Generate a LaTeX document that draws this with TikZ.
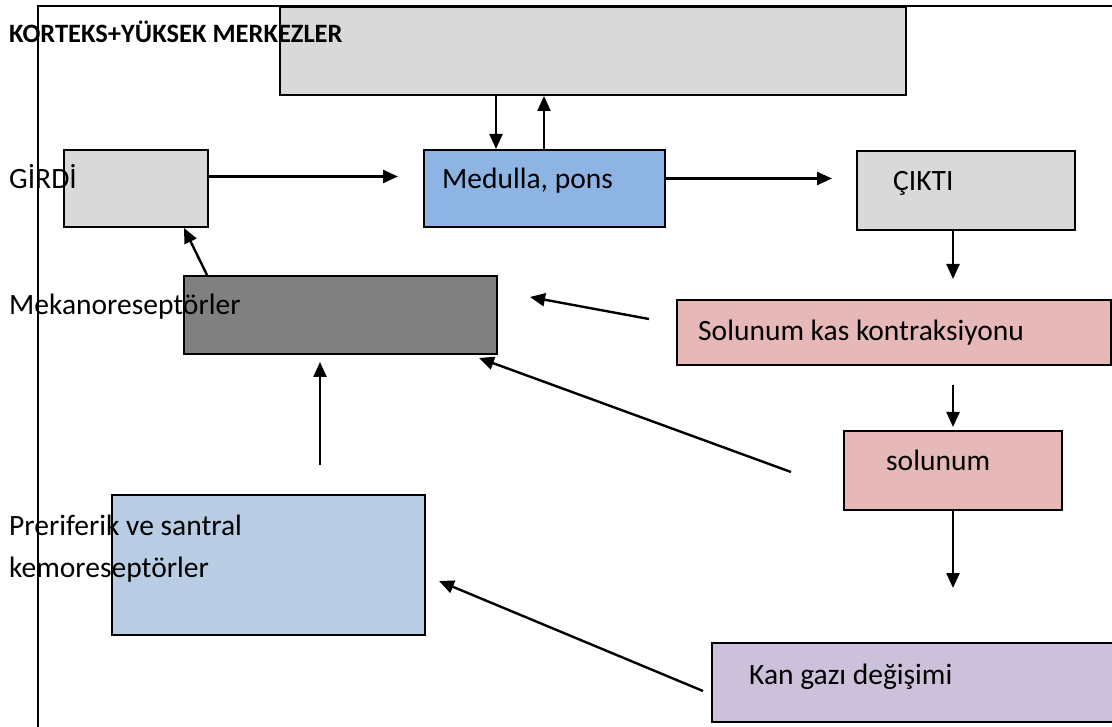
\documentclass[tikz,border=0pt]{standalone}
\usepackage{fontspec}
\setmainfont{Carlito}
\usetikzlibrary{arrows.meta}
\definecolor{lgray}{HTML}{D9D9D9}
\definecolor{medblue}{HTML}{8DB4E2}
\definecolor{dgray}{HTML}{808080}
\definecolor{rose}{HTML}{E6B8B7}
\definecolor{pblue}{HTML}{B8CCE4}
\definecolor{lilac}{HTML}{CCC0DA}
\begin{document}
\begin{tikzpicture}[x=1pt,y=-1pt,
  box/.style={draw, line width=2pt, inner sep=0pt, anchor=north west},
  lbl/.style={anchor=base west, inner sep=0pt, font=\fontsize{29.5}{35}\selectfont},
  arr/.style={line width=2.4pt, -{Triangle[length=15pt,width=13pt]}}]
\useasboundingbox (0,0) rectangle (1112,727);
\fill[white] (0,0) rectangle (1112,727);
% boxes
\node[box, fill=lgray, minimum width=626pt, minimum height=88pt] (korteks) at (279,6) {};
\draw[line width=2pt] (38,727) -- (38,6) -- (1112,6);
\node[box, fill=lgray, minimum width=144pt, minimum height=77pt] (girdi) at (63,149) {};
\node[box, fill=medblue, minimum width=241pt, minimum height=77pt] (medulla) at (423,149) {};
\node[box, fill=lgray, minimum width=218pt, minimum height=79pt] (cikti) at (856,150) {};
\node[box, fill=dgray, minimum width=313pt, minimum height=78pt] (mekano) at (183,275) {};
\node[box, fill=rose, minimum width=434pt, minimum height=65pt] (solkas) at (676,299) {};
\node[box, fill=rose, minimum width=218pt, minimum height=79pt] (solunum) at (843,430) {};
\node[box, fill=pblue, minimum width=313pt, minimum height=140pt] (kemo) at (111,494) {};
\node[box, fill=lilac, minimum width=420pt, minimum height=79pt] (kan) at (711,642) {};
% labels
\node[anchor=base west, inner sep=0pt, font=\fontsize{26.5}{31}\selectfont\bfseries] (tkorteks) at (9,43) {KORTEKS+YÜKSEK MERKEZLER};
\node[lbl] (tgirdi) at (9,189) {GİRDİ};
\node[lbl] (tmedulla) at (442,189) {Medulla, pons};
\node[lbl] (tcikti) at (893,191) {ÇIKTI};
\node[lbl] (tmekano) at (9,315) {Mekanoreseptörler};
\node[lbl] (tsolkas) at (698,341) {Solunum kas kontraksiyonu};
\node[lbl] (tsolunum) at (886,470) {solunum};
\node[lbl] (tkemo1) at (9,535) {Preriferik ve santral};
\node[lbl] (tkemo2) at (9,577) {kemoreseptörler};
\node[lbl] (tkan) at (749,684) {Kan gazı değişimi};
% free ends
\coordinate (m1s) at (207,275);
\coordinate (m1e) at (184,228);
\coordinate (s1s) at (649,319);
\coordinate (s1e) at (530,297);
\coordinate (s2s) at (791,472);
\coordinate (s2e) at (479,358);
\coordinate (k1s) at (320,465);
\coordinate (k1e) at (320,362);
\coordinate (g1s) at (703,691);
\coordinate (g1e) at (439,581);
% connectors
\draw[arr] ([xshift=217pt]korteks.south west) -- ([xshift=73pt]medulla.north west);
\draw[arr] ([xshift=121pt]medulla.north west) -- ([xshift=265pt]korteks.south west);
\draw[arr, shorten >=25pt] ([yshift=12pt]girdi.east) -- ([yshift=12pt]medulla.west);
\draw[arr, shorten >=24pt] ([yshift=10pt]medulla.east) -- ([yshift=10pt]medulla.east -| cikti.west);
\draw[arr, shorten >=20pt] ([xshift=97pt]cikti.south west) -- ([xshift=97pt]cikti.south west |- solkas.north);
\draw[arr, shorten <=19pt, shorten >=3pt] ([xshift=277pt]solkas.south west) -- ([xshift=277pt]solkas.south west |- solunum.north);
\draw[arr, shorten >=54pt] ([xshift=110pt]solunum.south west) -- ([xshift=110pt]solunum.south west |- kan.north);
\draw[arr] (m1s) -- (m1e);
\draw[arr] (s1s) -- (s1e);
\draw[arr] (s2s) -- (s2e);
\draw[arr] (k1s) -- (k1e);
\draw[arr] (g1s) -- (g1e);
\end{tikzpicture}
\end{document}
